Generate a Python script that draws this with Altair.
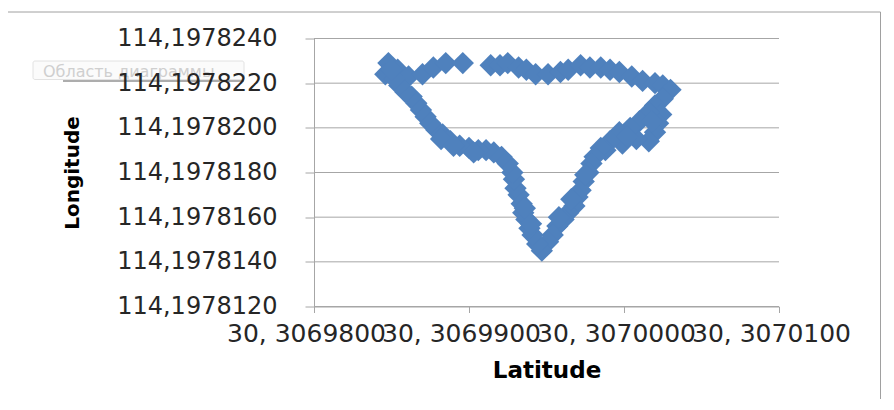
import altair as alt
import pandas as pd

# Latitude / longitude of the track points
lat = [30.3069848, 30.3069846, 30.3069854, 30.3069861, 30.3069870, 30.3069877, 30.3069885,
       30.3069896, 30.3069914, 30.3069920, 30.3069925, 30.3069932, 30.3069937, 30.3069943,
       30.3069951, 30.3069959, 30.3069964, 30.3069972, 30.3069978, 30.3069985, 30.3069991,
       30.3069997, 30.3070005, 30.3070012, 30.3070020, 30.3070025, 30.3070030, 30.3070025,
       30.3070020, 30.3070024, 30.3070022, 30.3070020, 30.3070016, 30.3070016, 30.3070010,
       30.3070008, 30.3070004, 30.3069997, 30.3069999, 30.3069991, 30.3069988, 30.3069985,
       30.3069981, 30.3069979, 30.3069977, 30.3069974, 30.3069972, 30.3069970, 30.3069968,
       30.3069964, 30.3069961, 30.3069957, 30.3069954, 30.3069951, 30.3069947, 30.3069944,
       30.3069941, 30.3069939, 30.3069937, 30.3069935, 30.3069934, 30.3069932, 30.3069930,
       30.3069929, 30.3069928, 30.3069925, 30.3069921, 30.3069916, 30.3069911, 30.3069906,
       30.3069900, 30.3069894, 30.3069888, 30.3069883, 30.3069879, 30.3069875, 30.3069872,
       30.3069869, 30.3069866, 30.3069863, 30.3069859, 30.3069855, 30.3069852, 30.3069850,
       30.3069882, 30.3069890, 30.3069903, 30.3069936, 30.3069940, 30.3069958, 30.3069966,
       30.3069975, 30.3070002, 30.3070018]

lon = [114.1978229, 114.1978224, 114.1978226, 114.1978223, 114.1978224, 114.1978227, 114.1978229,
       114.1978229, 114.1978228, 114.1978228, 114.1978229, 114.1978227, 114.1978226, 114.1978224,
       114.1978224, 114.1978225, 114.1978226, 114.1978228, 114.1978227, 114.1978227, 114.1978226,
       114.1978225, 114.1978223, 114.1978221, 114.1978220, 114.1978219, 114.1978217, 114.1978213,
       114.1978210, 114.1978206, 114.1978202, 114.1978198, 114.1978194, 114.1978207, 114.1978203,
       114.1978195, 114.1978200, 114.1978198, 114.1978193, 114.1978194, 114.1978190, 114.1978191,
       114.1978187, 114.1978184, 114.1978180, 114.1978176, 114.1978172, 114.1978169, 114.1978165,
       114.1978162, 114.1978159, 114.1978156, 114.1978152, 114.1978149, 114.1978145, 114.1978148,
       114.1978152, 114.1978155, 114.1978159, 114.1978162, 114.1978166, 114.1978170, 114.1978173,
       114.1978177, 114.1978180, 114.1978184, 114.1978187, 114.1978189, 114.1978190, 114.1978190,
       114.1978191, 114.1978192, 114.1978194, 114.1978197, 114.1978199, 114.1978202, 114.1978205,
       114.1978208, 114.1978211, 114.1978214, 114.1978216, 114.1978219, 114.1978222, 114.1978226,
       114.1978195, 114.1978192, 114.1978189, 114.1978164, 114.1978157, 114.1978160, 114.1978168,
       114.1978179, 114.1978196, 114.1978203]

x_ticks = [30.30698, 30.30699, 30.30700, 30.30701]
y_ticks = [114.197812, 114.197814, 114.197816, 114.197818, 114.197820, 114.197822, 114.197824]

x_title = "Latitude"
y_title = "Longitude"
tooltip_text = "Область диаграммы"

W, H = 465, 268
GRAY = "#a6a6a6"

points = pd.DataFrame({"lat": lat, "lon": lon})
grid = pd.DataFrame({"lon": y_ticks})

x_enc = alt.X(
    "lat:Q",
    scale=alt.Scale(domain=[x_ticks[0], x_ticks[-1]], nice=False, zero=False),
    title=x_title,
    axis=alt.Axis(
        values=x_ticks, grid=False, labelOverlap=False, labelFlush=False,
        labelExpr="replace(format(datum.value, '.7f'), '.', ', ')",
        labelFont="DejaVu Sans", labelFontSize=25, labelColor="#262626",
        labelPadding=9, labelOffset=-8, tickSize=6, tickColor=GRAY, domainColor=GRAY,
        titleFont="DejaVu Sans", titleFontSize=23, titleFontWeight="bold", titleColor="#000000",
        titleX=W / 2, titleY=71, titleAlign="center", titleBaseline="alphabetic",
    ),
)

y_enc = alt.Y(
    "lon:Q",
    scale=alt.Scale(domain=[y_ticks[0], y_ticks[-1]], nice=False, zero=False),
    title=y_title,
    axis=alt.Axis(
        values=y_ticks, grid=False, labelOverlap=False, labelFlush=False, zindex=1,
        labelExpr="replace(format(datum.value, '.7f'), '.', ',')",
        labelFont="DejaVu Sans", labelFontSize=24, labelColor="#262626",
        labelPadding=28, tickSize=9, tickColor=GRAY, domainColor=GRAY,
        titleFont="DejaVu Sans", titleFontSize=20, titleFontWeight="bold", titleColor="#000000",
        titleX=-242, titleY=H / 2, titleAngle=270, titleAlign="center", titleBaseline="middle",
    ),
)

one = alt.Data(values=[{"k": 1}])

border = alt.Chart(one).mark_rect(fillOpacity=0, stroke="#a0a0a0", strokeWidth=1).encode(
    x=alt.value(-306.5), x2=alt.value(566.5), y=alt.value(-26.5), y2=alt.value(420)
)

gridlines = alt.Chart(grid).mark_rule(color=GRAY, strokeWidth=1).encode(
    y=y_enc, x=alt.value(0), x2=alt.value(W)
)

tip_shadow = alt.Chart(one).mark_rect(fill="#777777", opacity=0.6).encode(
    x=alt.value(-251), x2=alt.value(-70), y=alt.value(40.5), y2=alt.value(43.5)
)
tip_box = alt.Chart(one).mark_rect(fill="#fbfbfb", stroke="#e2e2e2", strokeWidth=1, cornerRadius=2).encode(
    x=alt.value(-281), x2=alt.value(-70), y=alt.value(22.5), y2=alt.value(41)
)
tip_text = alt.Chart(one).mark_text(
    text=tooltip_text, font="DejaVu Sans", fontSize=16, color="#cfcfcf",
    align="left", baseline="alphabetic",
).encode(x=alt.value(-271), y=alt.value(38))

markers = alt.Chart(points).mark_point(
    shape="diamond", filled=True, size=500, color="#4F81BD", opacity=1, strokeWidth=0
).encode(x=x_enc, y=y_enc)

chart = alt.layer(border, gridlines, tip_shadow, tip_box, tip_text, markers).properties(
    width=W, height=H,
    autosize=alt.AutoSizeParams(type="none"),
    padding={"left": 306, "top": 30.5, "right": 104, "bottom": 92},
    background="white",
).configure_view(strokeWidth=0)

chart.save("out.html", embed_options={"renderer": "svg", "actions": False})
